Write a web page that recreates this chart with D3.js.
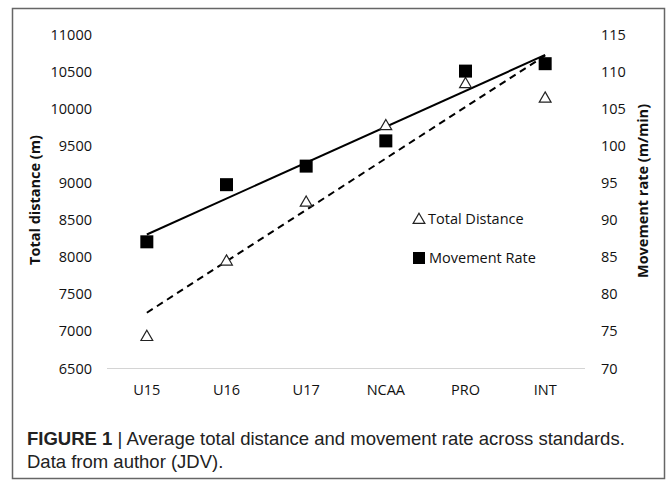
<!DOCTYPE html>
<html>
<head>
<meta charset="utf-8">
<script src="https://cdn.jsdelivr.net/npm/d3@7"></script>
<style>
    body { margin: 0; background: #fff; }
    svg { display: block; }
    .tick text { font-family: 'Open Sans', sans-serif; font-size: 14.5px; fill: #111; }
    .title { font-family: 'Open Sans', sans-serif; font-size: 14.5px; font-weight: bold; fill: #111; }
    .legend { font-family: 'Open Sans', sans-serif; font-size: 14.5px; fill: #111; }
    .caption { font-family: 'Liberation Sans', sans-serif; font-size: 18.5px; fill: #222; }
</style>
</head>
<body>
<div id="chart"></div>
<script>
const standards = ['U15', 'U16', 'U17', 'NCAA', 'PRO', 'INT'];
const totalDistance = [6930, 7946, 8740, 9770, 10336, 10142];
const movementRate = [87.0, 94.7, 97.2, 100.6, 110.0, 111.0];
const distanceTicks = [6500, 7000, 7500, 8000, 8500, 9000, 9500, 10000, 10500, 11000];
const rateTicks = [70, 75, 80, 85, 90, 95, 100, 105, 110, 115];

const width = 667, height = 484;
const plot = { left: 107, right: 585, top: 34, bottom: 368 };

const svg = d3.select('#chart').append('svg')
    .attr('width', width)
    .attr('height', height);

// frame round chart and caption
svg.append('rect')
    .attr('x', 12.5)
    .attr('y', 8.5)
    .attr('width', 652)
    .attr('height', 470)
    .attr('fill', 'none')
    .attr('stroke', '#666')
    .attr('stroke-width', 1.5);

const x = d3.scaleBand()
    .domain(standards)
    .range([plot.left, plot.right]);

const yDist = d3.scaleLinear()
    .domain([6500, 11000])
    .range([plot.bottom, plot.top]);

const yRate = d3.scaleLinear()
    .domain([70, 115])
    .range([plot.bottom, plot.top]);

const cx = d => x(d) + x.bandwidth() / 2;

// baseline
svg.append('line')
    .attr('x1', plot.left)
    .attr('x2', plot.right)
    .attr('y1', plot.bottom + 0.5)
    .attr('y2', plot.bottom + 0.5)
    .attr('stroke', '#d4d4d4')
    .attr('stroke-width', 1);

svg.append('g')
    .attr('transform', `translate(${plot.left - 15},0)`)
    .call(d3.axisLeft(yDist).tickValues(distanceTicks).tickFormat(d3.format('d')).tickSize(0).tickPadding(0))
    .call(g => g.select('.domain').remove())
    .selectAll('text').attr('dy', '0.35em');

svg.append('g')
    .attr('transform', `translate(${plot.right + 16},0)`)
    .call(d3.axisRight(yRate).tickValues(rateTicks).tickFormat(d3.format('d')).tickSize(0).tickPadding(0))
    .call(g => g.select('.domain').remove())
    .selectAll('text').attr('dy', '0.35em');

svg.append('g')
    .attr('transform', `translate(0,${plot.bottom + 22})`)
    .call(d3.axisBottom(x).tickSize(0).tickPadding(0))
    .call(g => g.select('.domain').remove())
    .selectAll('text').attr('dy', '0.35em');

svg.append('text')
    .attr('class', 'title')
    .attr('transform', 'translate(40,200) rotate(-90)')
    .attr('text-anchor', 'middle')
    .text('Total distance (m)');

svg.append('text')
    .attr('class', 'title')
    .attr('transform', 'translate(648,191) rotate(-90)')
    .attr('text-anchor', 'middle')
    .text('Movement rate (m/min)');

// linear trend lines, least squares over the category index
function trend(values) {
    const n = values.length;
    const mx = (n - 1) / 2;
    const my = d3.mean(values);
    let sxy = 0, sxx = 0;
    values.forEach((v, i) => { sxy += (i - mx) * (v - my); sxx += (i - mx) * (i - mx); });
    const slope = sxy / sxx;
    return [0, n - 1].map(i => [i, my + slope * (i - mx)]);
}

const line = scale => d3.line()
    .x(d => cx(standards[d[0]]))
    .y(d => scale(d[1]));

svg.append('path')
    .attr('d', line(yDist)(trend(totalDistance)))
    .attr('fill', 'none')
    .attr('stroke', '#000')
    .attr('stroke-width', 2)
    .attr('stroke-dasharray', '7,5');

svg.append('path')
    .attr('d', line(yRate)(trend(movementRate)))
    .attr('fill', 'none')
    .attr('stroke', '#000')
    .attr('stroke-width', 2);

const triangle = d3.symbol().type(d3.symbolTriangle).size(60);

svg.append('g').selectAll('path')
    .data(totalDistance)
    .join('path')
        .attr('d', triangle)
        .attr('transform', (d, i) => `translate(${cx(standards[i])},${yDist(d) + 1})`)
        .attr('fill', '#fff')
        .attr('stroke', '#222')
        .attr('stroke-width', 1.2);

svg.append('g').selectAll('rect')
    .data(movementRate)
    .join('rect')
        .attr('x', (d, i) => cx(standards[i]) - 6.5)
        .attr('y', d => yRate(d) - 6.5)
        .attr('width', 13)
        .attr('height', 13)
        .attr('fill', '#000');

// legend
const legend = svg.append('g');
legend.append('path')
    .attr('d', triangle)
    .attr('transform', 'translate(419,220)')
    .attr('fill', '#fff')
    .attr('stroke', '#222')
    .attr('stroke-width', 1.2);
legend.append('text')
    .attr('class', 'legend')
    .attr('x', 428)
    .attr('y', 219)
    .attr('dy', '0.35em')
    .text('Total Distance');
legend.append('rect')
    .attr('x', 413)
    .attr('y', 252)
    .attr('width', 12)
    .attr('height', 12)
    .attr('fill', '#000');
legend.append('text')
    .attr('class', 'legend')
    .attr('x', 429)
    .attr('y', 258)
    .attr('dy', '0.35em')
    .text('Movement Rate');

// caption
const caption = svg.append('text')
    .attr('class', 'caption')
    .attr('x', 27)
    .attr('y', 445);
caption.append('tspan')
    .attr('font-weight', 'bold')
    .text('FIGURE 1');
caption.append('tspan')
    .text(' | Average total distance and movement rate across standards.');
svg.append('text')
    .attr('class', 'caption')
    .attr('x', 27)
    .attr('y', 468)
    .text('Data from author (JDV).');
</script>
</body>
</html>
